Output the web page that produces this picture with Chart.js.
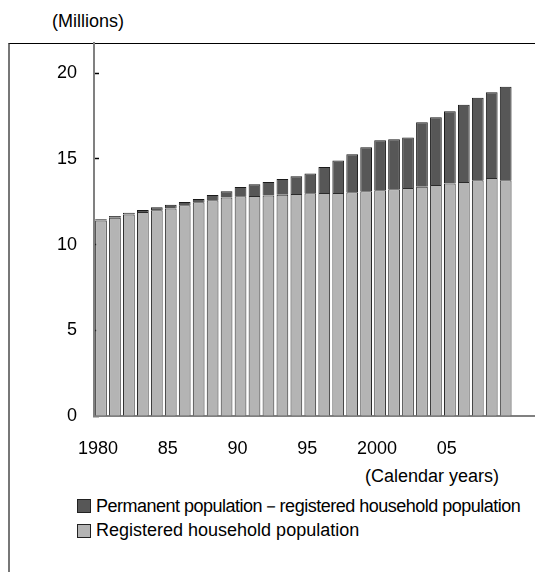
<!DOCTYPE html>
<html>
<head>
<meta charset="utf-8">
<script src="https://cdn.jsdelivr.net/npm/chart.js@4.4.0/dist/chart.umd.min.js"></script>
<style>
body { margin: 0; background: #fff; font-family: "Liberation Sans", Arial, sans-serif; color: #000; }
#wrap { position: relative; width: 535px; height: 572px; overflow: hidden; }
#frame { position: absolute; left: 8px; top: 43px; width: 527px; height: 529px; border-top: 1px solid #000; border-left: 2px solid #777; }
#unit { position: absolute; left: 52px; top: 11px; font-size: 18px; }
#xtitle { position: absolute; right: 36px; top: 466px; font-size: 18px; }
#legend { position: absolute; left: 77px; top: 493px; font-size: 18px; }
.item { display: flex; align-items: center; height: 25px; white-space: nowrap; }
.item:first-child { letter-spacing: -0.5px; }
.box { width: 12px; height: 12px; border: 1px solid #222; margin-right: 5px; flex: none; }
canvas { position: absolute; left: 0; top: 0; }
</style>
</head>
<body>
<div id="wrap">
  <div id="frame"></div>
  <div id="unit">(Millions)</div>
  <div id="xtitle">(Calendar years)</div>
  <div id="legend"></div>
  <canvas id="grafico" width="535" height="572"></canvas>
</div>
<script>
const years = [1980, 1981, 1982, 1983, 1984, 1985, 1986, 1987, 1988, 1989,
    1990, 1991, 1992, 1993, 1994, 1995, 1996, 1997, 1998, 1999,
    2000, 2001, 2002, 2003, 2004, 2005, 2006, 2007, 2008, 2009]
const registered = [11.40, 11.57, 11.76, 11.90, 12.00, 12.11, 12.29, 12.47, 12.58, 12.74,
    12.82, 12.84, 12.87, 12.91, 12.95, 12.99, 13.01, 13.01, 13.05, 13.11,
    13.17, 13.23, 13.30, 13.38, 13.48, 13.57, 13.65, 13.75, 13.89, 13.75]
const nonRegistered = [0.08, 0.10, 0.10, 0.12, 0.18, 0.22, 0.20, 0.19, 0.31, 0.37,
    0.54, 0.68, 0.78, 0.92, 1.03, 1.15, 1.52, 1.89, 2.22, 2.57,
    2.91, 2.91, 2.94, 3.75, 3.95, 4.21, 4.51, 4.82, 4.99, 5.46]
const tickYears = [1980, 1985, 1990, 1995, 2000, 2005]
const tickLabels = ['1980', '85', '90', '95', '2000', '05']
const yTicks = [0, 5, 10, 15, 20]

Chart.defaults.font.family = '"Liberation Sans", Arial, sans-serif'
Chart.defaults.font.size = 18
Chart.defaults.color = '#000'

const datasets = [
    {
        label: 'Registered household population',
        data: years.map((ano, i) => ({ x: ano, y: registered[i] })),
        backgroundColor: '#b4b4b4',
        borderColor: '#2a2a2a',
        borderWidth: 1,
        categoryPercentage: 1,
        barPercentage: 0.84,
    },
    {
        label: 'Permanent population\uFF0Dregistered household population',
        data: years.map((ano, i) => ({ x: ano, y: nonRegistered[i] })),
        backgroundColor: '#575757',
        borderColor: '#1a1a1a',
        borderWidth: 1,
        categoryPercentage: 1,
        barPercentage: 0.84,
    },
]

let myChart = new Chart(document.getElementById('grafico'), {
    type: 'bar',
    data: { datasets: datasets },
    options: {
        responsive: false,
        animation: false,
        layout: { padding: { top: 43, left: 0, right: 0, bottom: 0 } },
        plugins: {
            legend: { display: false },
            tooltip: { enabled: false },
        },
        scales: {
            x: {
                type: 'linear',
                stacked: true,
                offset: false,
                min: 1979.5,
                max: 2011.1,
                afterBuildTicks: s => { s.ticks = tickYears.map(v => ({ value: v })) },
                afterFit: s => { s.height = 156 },
                border: { color: '#808080', width: 2 },
                grid: { drawOnChartArea: false, drawTicks: false, offset: false },
                ticks: {
                    autoSkip: false,
                    maxRotation: 0,
                    padding: 22,
                    labelOffset: -3,
                    callback: v => tickLabels[tickYears.indexOf(v)],
                },
            },
            y: {
                stacked: true,
                min: 0,
                max: 21.76,
                afterBuildTicks: s => { s.ticks = yTicks.map(v => ({ value: v })) },
                afterFit: s => { s.width = 94 },
                border: { color: '#808080', width: 2 },
                grid: { drawOnChartArea: false, tickLength: -5, color: '#000', tickWidth: 1.5 },
                ticks: { padding: 22 },
            },
        },
    },
})

// legenda na ordem inversa (serie de cima primeiro)
const legenda = document.querySelector('#legend')
datasets.slice().reverse().forEach(ds => {
    const item = document.createElement('div')
    item.className = 'item'
    item.innerHTML = `<span class="box" style="background:${ds.backgroundColor}"></span><span>${ds.label}</span>`
    legenda.appendChild(item)
})
</script>
</body>
</html>
